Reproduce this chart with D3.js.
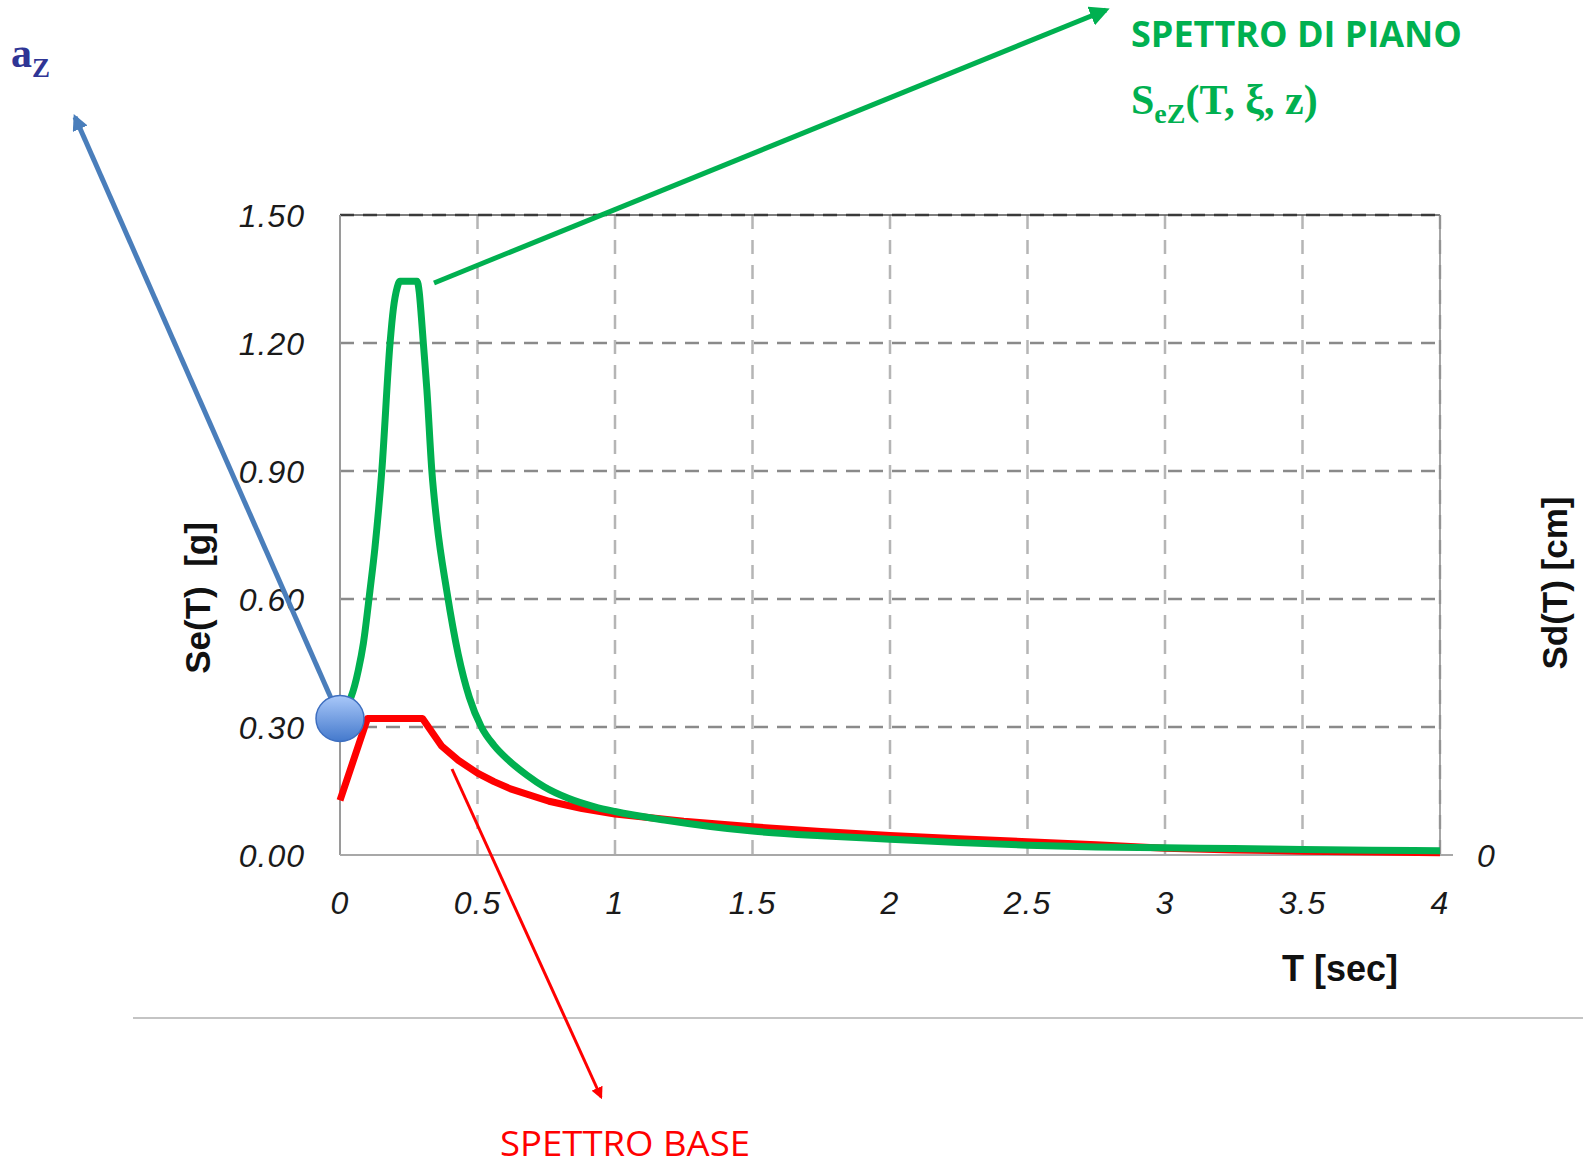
<!DOCTYPE html>
<html>
<head>
<meta charset="utf-8">
<style>
    body { margin: 0; background: #fff; }
    .tick-label { font-family: "Liberation Sans", Arial, sans-serif; font-style: italic; font-size: 32px; fill: #1a1a1a; }
    .axis-title { font-family: "Liberation Sans", Arial, sans-serif; font-weight: bold; font-size: 35px; fill: #111; }
</style>
<script src="https://d3js.org/d3.v7.min.js"></script>
</head>
<body>
<svg id="chart" width="1583" height="1169"></svg>
<script>
    // period values (sec) and spectral accelerations (g)
    var baseT   = [0, 0.1, 0.3, 0.37, 0.43, 0.5, 0.56, 0.62, 0.76, 0.88, 1.0, 1.25, 1.5, 1.75, 2.0, 2.25, 2.5, 2.75, 3.0, 3.25, 3.5, 3.75, 4.0];
    var baseSe  = [0.128, 0.32, 0.32, 0.255, 0.222, 0.192, 0.172, 0.155, 0.126, 0.109, 0.096, 0.079, 0.066, 0.055, 0.046, 0.038, 0.031, 0.024, 0.016, 0.012, 0.009, 0.007, 0.005];

    var floorT  = [0, 0.02, 0.04, 0.067, 0.085, 0.109, 0.127, 0.152, 0.182, 0.194, 0.208, 0.218, 0.28, 0.288, 0.296, 0.303, 0.316, 0.334, 0.352, 0.388, 0.43, 0.47, 0.514, 0.56, 0.613, 0.68, 0.742, 0.83, 0.926, 1.0, 1.18, 1.5, 1.75, 2.0, 2.25, 2.5, 2.75, 3.0, 3.25, 3.5, 3.75, 4.0];
    var floorSe = [0.33, 0.35, 0.37, 0.434, 0.496, 0.62, 0.72, 0.90, 1.20, 1.28, 1.33, 1.345, 1.345, 1.32, 1.26, 1.20, 1.09, 0.90, 0.78, 0.62, 0.47, 0.37, 0.30, 0.257, 0.222, 0.187, 0.160, 0.133, 0.113, 0.102, 0.082, 0.056, 0.045, 0.037, 0.029, 0.023, 0.019, 0.017, 0.015, 0.013, 0.011, 0.010];

    var az = 0.32;

    var xTicks = [0, 0.5, 1, 1.5, 2, 2.5, 3, 3.5, 4];
    var xTickLabels = ["0", "0.5", "1", "1.5", "2", "2.5", "3", "3.5", "4"];
    var yTicks = [0, 0.3, 0.6, 0.9, 1.2, 1.5];
    var yTickLabels = ["0.00", "0.30", "0.60", "0.90", "1.20", "1.50"];

    var svg = d3.select('#chart');

    var x = d3.scaleLinear().domain([0, 4]).range([340, 1440]);
    var y = d3.scaleLinear().domain([0, 1.5]).range([855, 215]);

    // grid
    svg.selectAll('.vgrid')
        .data(xTicks.slice(1))
        .enter().append('line')
        .attr('x1', d => x(d)).attr('x2', d => x(d))
        .attr('y1', y(1.5)).attr('y2', y(0))
        .attr('stroke', '#b5b5b5').attr('stroke-width', 2.5)
        .attr('stroke-dasharray', '14,11');

    // top and right borders
    svg.append('line')
        .attr('x1', x(0)).attr('x2', x(4)).attr('y1', y(1.5)).attr('y2', y(1.5))
        .attr('stroke', '#555').attr('stroke-width', 1.5);
    svg.append('line')
        .attr('x1', x(4)).attr('x2', x(4)).attr('y1', y(1.5)).attr('y2', y(0))
        .attr('stroke', '#888').attr('stroke-width', 1.5);

    svg.selectAll('.hgrid')
        .data(yTicks.slice(1))
        .enter().append('line')
        .attr('x1', x(0)).attr('x2', x(4))
        .attr('y1', d => y(d)).attr('y2', d => y(d))
        .attr('stroke', d => d === 1.5 ? '#3a3a3a' : '#8a8a8a').attr('stroke-width', 2.5)
        .attr('stroke-dasharray', '14,9');

    // axes lines
    svg.append('line')
        .attr('x1', x(0)).attr('x2', x(0)).attr('y1', y(1.5)).attr('y2', y(0))
        .attr('stroke', '#9a9a9a').attr('stroke-width', 2);
    svg.append('line')
        .attr('x1', x(0)).attr('x2', x(4) + 13).attr('y1', y(0)).attr('y2', y(0))
        .attr('stroke', '#a8a8a8').attr('stroke-width', 2);

    // tick labels
    svg.selectAll('.ylab')
        .data(yTicks)
        .enter().append('text')
        .attr('class', 'tick-label')
        .attr('x', x(0) - 35)
        .attr('y', d => y(d) + 12)
        .attr('text-anchor', 'end')
        .attr('letter-spacing', 1)
        .text((d, i) => yTickLabels[i]);

    svg.selectAll('.xlab')
        .data(xTicks)
        .enter().append('text')
        .attr('class', 'tick-label')
        .attr('x', d => x(d))
        .attr('y', y(0) + 59)
        .attr('text-anchor', 'middle')
        .attr('letter-spacing', 1)
        .text((d, i) => xTickLabels[i]);

    svg.append('text')
        .attr('class', 'tick-label')
        .attr('x', x(4) + 46).attr('y', y(0) + 12)
        .attr('text-anchor', 'middle')
        .text('0');

    // axis titles
    svg.append('text')
        .attr('class', 'axis-title')
        .attr('transform', 'translate(210,598) rotate(-90)')
        .attr('text-anchor', 'middle')
        .attr('xml:space', 'preserve')
        .text('Se(T)  [g]');

    svg.append('text')
        .attr('class', 'axis-title')
        .attr('transform', 'translate(1567,583) rotate(-90)')
        .attr('text-anchor', 'middle')
        .text('Sd(T) [cm]');

    svg.append('text')
        .attr('class', 'axis-title')
        .attr('x', 1340).attr('y', 981)
        .attr('text-anchor', 'middle')
        .style('font-size', '36px')
        .text('T [sec]');

    // separator line
    svg.append('line')
        .attr('x1', 133).attr('x2', 1583).attr('y1', 1018).attr('y2', 1018)
        .attr('stroke', '#c4c4c4').attr('stroke-width', 2);

    // spectra
    var baseData = baseT.map((t, i) => [t, baseSe[i]]);
    var floorData = floorT.map((t, i) => [t, floorSe[i]]);

    svg.append('path')
        .datum(baseData)
        .attr('fill', 'none').attr('stroke', '#ff0000').attr('stroke-width', 7)
        .attr('stroke-linejoin', 'round')
        .attr('d', d3.line().x(d => x(d[0])).y(d => y(d[1])));

    svg.append('path')
        .datum(floorData)
        .attr('fill', 'none').attr('stroke', '#00b050').attr('stroke-width', 7)
        .attr('stroke-linejoin', 'round')
        .attr('d', d3.line().curve(d3.curveMonotoneX).x(d => x(d[0])).y(d => y(d[1])));

    // arrow markers
    var defs = svg.append('defs');
    [['arrBlue', '#4a7ebb', 3.2], ['arrGreen', '#00b050', 4], ['arrRed', '#ff0000', 4]].forEach(function (m) {
        defs.append('marker')
            .attr('id', m[0])
            .attr('viewBox', '0 0 10 10')
            .attr('refX', 8).attr('refY', 5)
            .attr('markerWidth', m[2]).attr('markerHeight', m[2])
            .attr('markerUnits', 'strokeWidth')
            .attr('orient', 'auto')
            .append('path').attr('d', 'M0,0 L10,5 L0,10 Z').attr('fill', m[1]);
    });

    var grad = defs.append('linearGradient')
        .attr('id', 'ball').attr('x1', 0).attr('y1', 0).attr('x2', 0).attr('y2', 1);
    grad.append('stop').attr('offset', '0%').attr('stop-color', '#a9c8f9');
    grad.append('stop').attr('offset', '100%').attr('stop-color', '#4479cc');

    // annotation arrows
    svg.append('line')
        .attr('x1', x(0)).attr('y1', y(az)).attr('x2', 75).attr('y2', 117)
        .attr('stroke', '#4a7ebb').attr('stroke-width', 5)
        .attr('marker-end', 'url(#arrBlue)');

    svg.append('line')
        .attr('x1', 434).attr('y1', 283).attr('x2', 1106).attr('y2', 10)
        .attr('stroke', '#00b050').attr('stroke-width', 5)
        .attr('marker-end', 'url(#arrGreen)');

    svg.append('line')
        .attr('x1', 452).attr('y1', 769).attr('x2', 601).attr('y2', 1097)
        .attr('stroke', '#ff0000').attr('stroke-width', 3)
        .attr('marker-end', 'url(#arrRed)');

    // a_z marker
    svg.append('ellipse')
        .attr('cx', x(0)).attr('cy', y(az))
        .attr('rx', 24).attr('ry', 23)
        .attr('fill', 'url(#ball)')
        .attr('stroke', '#3e6fc0').attr('stroke-width', 1.5);

    // texts
    svg.append('text')
        .attr('x', 1131).attr('y', 47)
        .attr('textLength', 331).attr('lengthAdjust', 'spacingAndGlyphs')
        .style('font-family', '"Open Sans", sans-serif').style('font-weight', 'bold')
        .style('font-size', '36px').style('fill', '#00b050')
        .text('SPETTRO DI PIANO');

    var sez = svg.append('text')
        .attr('x', 1131).attr('y', 114)
        .style('font-family', '"Liberation Serif", "DejaVu Serif", serif').style('font-weight', 'bold')
        .style('font-size', '42px').style('fill', '#00b050');
    sez.append('tspan').text('S');
    sez.append('tspan').attr('dy', 9).style('font-size', '28px').text('eZ');
    sez.append('tspan').attr('dy', -9).text('(T, ξ, z)');

    var azt = svg.append('text')
        .attr('x', 11).attr('y', 67)
        .style('font-family', '"Liberation Serif", "DejaVu Serif", serif').style('font-weight', 'bold')
        .style('font-size', '42px').style('fill', '#2f3595');
    azt.append('tspan').text('a');
    azt.append('tspan').attr('dy', 10).style('font-size', '27px').text('Z');

    svg.append('text')
        .attr('x', 500).attr('y', 1156)
        .attr('textLength', 250).attr('lengthAdjust', 'spacingAndGlyphs')
        .style('font-family', '"Open Sans", sans-serif')
        .style('font-size', '35px').style('fill', '#ff0000')
        .text('SPETTRO BASE');
</script>
</body>
</html>
